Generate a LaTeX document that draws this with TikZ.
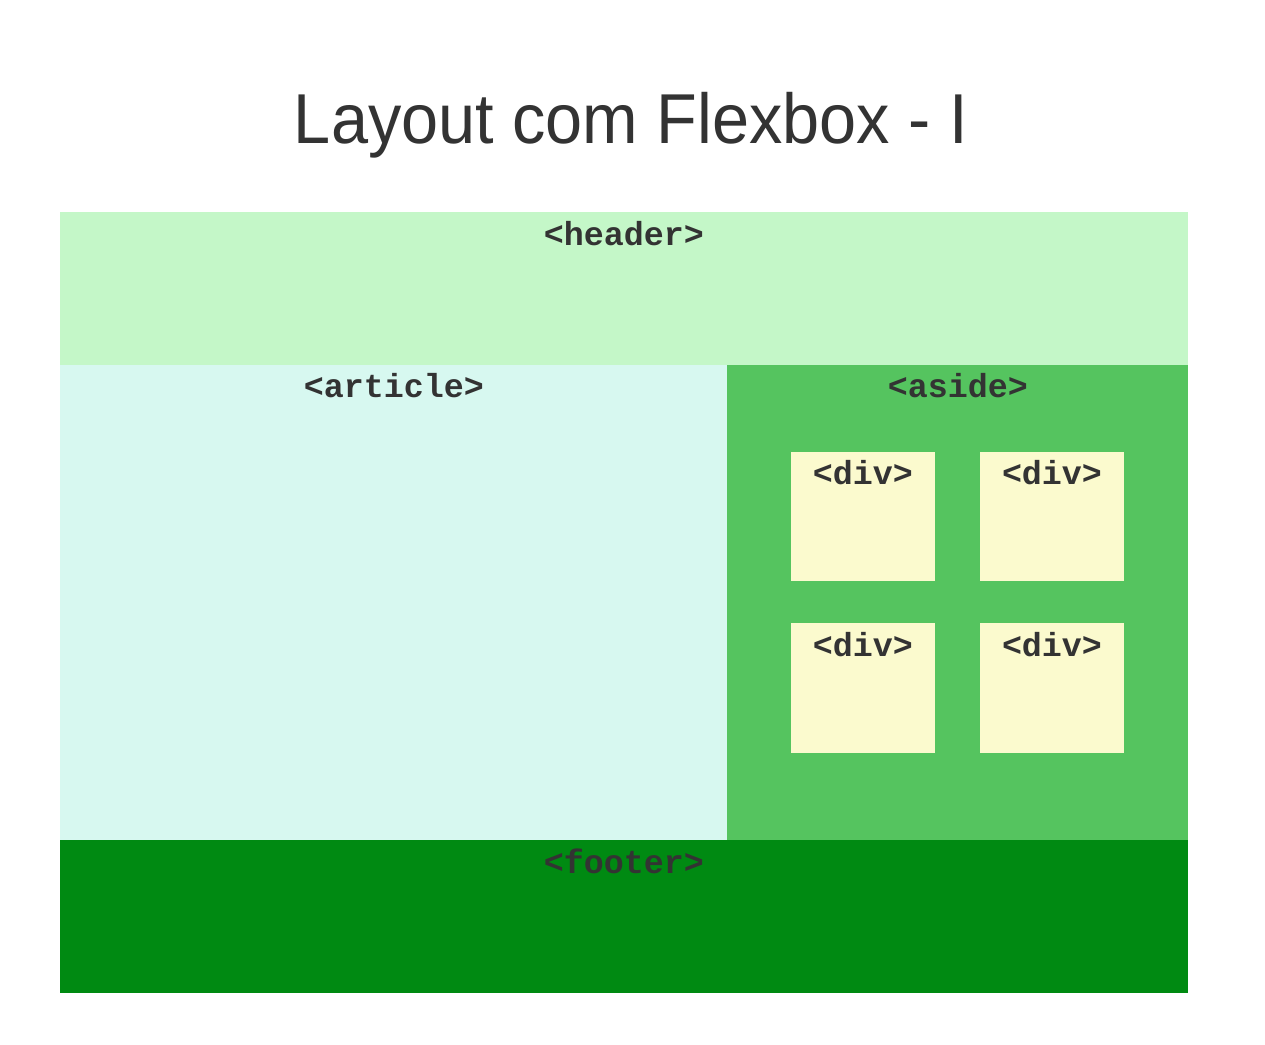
\documentclass[tikz,border=0pt]{standalone}
\usepackage{fontspec}
\setmainfont{Liberation Sans}
\newfontfamily\titlefont[FakeStretch=0.943]{Liberation Sans}
\newfontfamily\tagfont{Liberation Mono}
\definecolor{txtgray}{RGB}{51,51,51}
\definecolor{headgreen}{RGB}{196,247,200}
\definecolor{artcyan}{RGB}{215,248,240}
\definecolor{asidegreen}{RGB}{85,196,95}
\definecolor{footgreen}{RGB}{0,138,18}
\definecolor{divyellow}{RGB}{251,250,206}
\tikzset{every picture/.style={line width=0.75pt}}
\tikzset{tagtext/.style={anchor=center, text=txtgray, font=\tagfont\bfseries\fontsize{25}{30}\selectfont}}

\begin{document}
\begin{tikzpicture}[x=0.75pt,y=0.75pt,yscale=-1,xscale=1]
%set diagram size
\fill [white] (0,0) rectangle (1265,1045);

%Shape: Rectangle [id:header]
\fill [headgreen] (60,212) rectangle (1188,365);
%Shape: Rectangle [id:article]
\fill [artcyan] (60,365) rectangle (727,840);
%Shape: Rectangle [id:aside]
\fill [asidegreen] (727,365) rectangle (1188,840);
%Shape: Rectangle [id:footer]
\fill [footgreen] (60,840) rectangle (1188,993);

%Shape: Rectangle [id:div1]
\fill [divyellow] (791,452) rectangle (935,581);
%Shape: Rectangle [id:div2]
\fill [divyellow] (980,452) rectangle (1124,581);
%Shape: Rectangle [id:div3]
\fill [divyellow] (791,623) rectangle (935,753);
%Shape: Rectangle [id:div4]
\fill [divyellow] (980,623) rectangle (1124,753);

% Text Node
\node (title) at (631,144) [anchor=base, text=txtgray, font=\titlefont\fontsize{53}{60}\selectfont] {Layout com Flexbox - I};
% Text Node
\node (headerlbl) at (624,234) [tagtext] {<header>};
% Text Node
\node (articlelbl) at (394,386) [tagtext] {<article>};
% Text Node
\node (asidelbl) at (958,386) [tagtext] {<aside>};
% Text Node
\node (divlblA) at (863,473) [tagtext] {<div>};
% Text Node
\node (divlblB) at (1052,473) [tagtext] {<div>};
% Text Node
\node (divlblC) at (863,645) [tagtext] {<div>};
% Text Node
\node (divlblD) at (1052,645) [tagtext] {<div>};
% Text Node
\node (footerlbl) at (624,861) [tagtext] {<footer>};

\end{tikzpicture}
\end{document}
